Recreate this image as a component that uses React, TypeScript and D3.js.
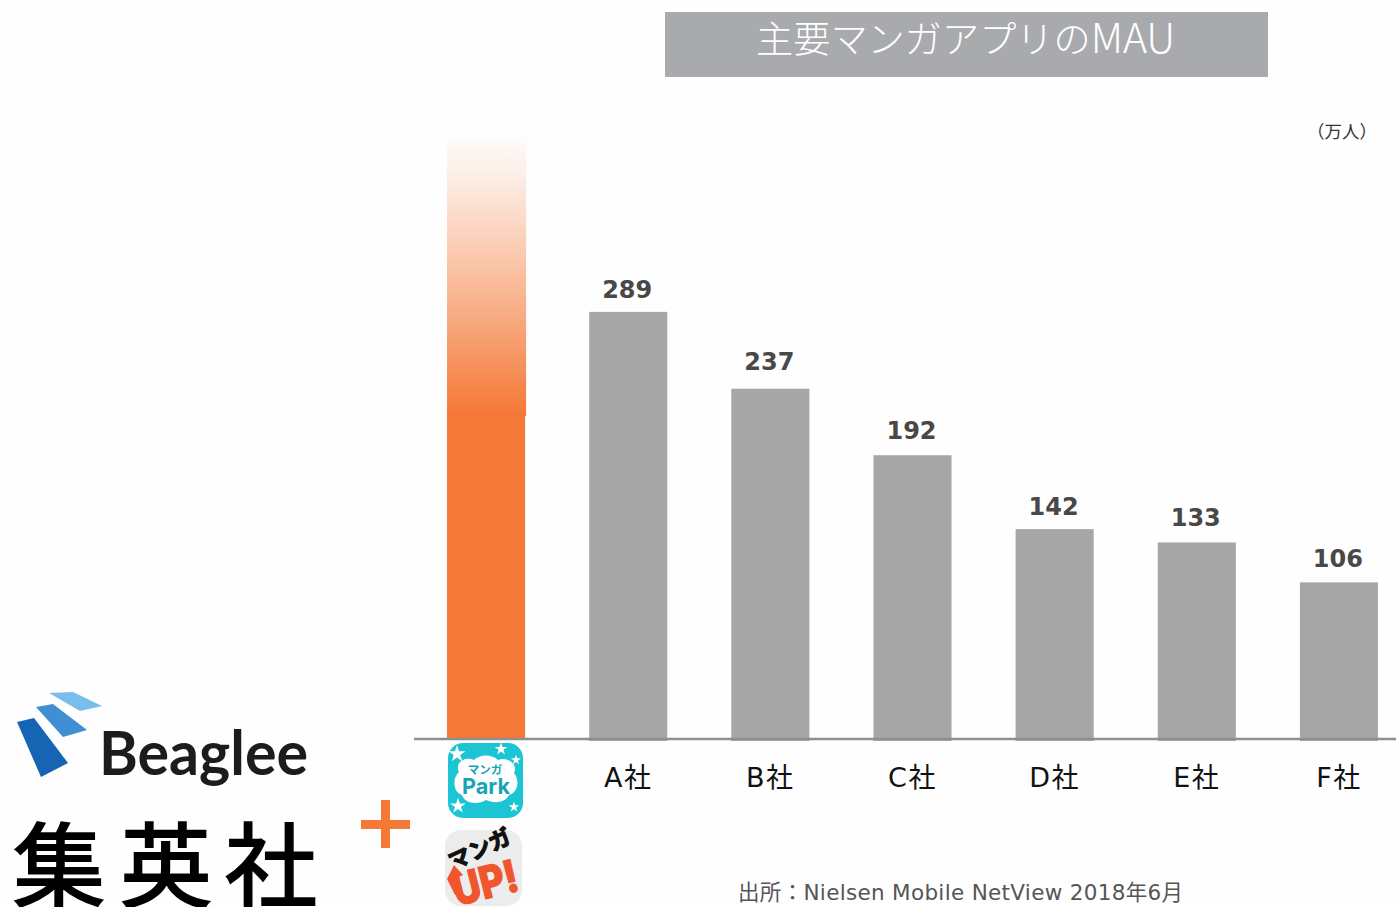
import React from "react";
import * as d3 from "d3";

const categories = ["マンガPark+マンガUP!", "A社", "B社", "C社", "D社", "E社", "F社"];
const values = [408, 289, 237, 192, 142, 133, 106];
const valueLabels = ["", "289", "237", "192", "142", "133", "106"];
const tickLabels = ["", "A社", "B社", "C社", "D社", "E社", "F社"];
const titleCjk = "主要マンガアプリの";
const titleLatin = "MAU";
const unitText = "\uFF08万人\uFF09";
const sourceText = "出所\uFF1ANielsen Mobile NetView 2018年6月";
const logoGlyphs = ["集", "英", "社"];

const labelGapNudge = [0, 0, 5, 2, 0, 2, 1];

const W = 1396, H = 907;
const CJK = "'DejaVu Sans','Noto Sans CJK JP',sans-serif";
const JP = "'Noto Sans CJK JP',sans-serif";
const baseY = 739;
const x = d3.scaleBand<string>().domain(categories).range([447 - 32, 1378 + 32]).paddingInner(64 / 142).paddingOuter(32 / 142);
const y = d3.scaleLinear().domain([0, 408]).range([baseY, baseY - 603]);
const logoX = d3.scaleOrdinal<string, number>().domain(logoGlyphs).range([13, 120, 225]);
const ORANGE = "#f47836";
const star = d3.symbol().type(d3.symbolStar);
const parkStars = [[457, 754, 90], [501, 749, 50], [516, 760, 32], [458, 806, 75], [514, 807, 35]];

export default function App() {
  const bw = x.bandwidth();
  return (
    <svg width={W} height={H} viewBox={`0 0 ${W} ${H}`} style={{ position: "absolute", left: 0, top: 0, background: "#fefefe" }}>
      <defs>
        <linearGradient id="fade" x1="0" x2="0" y1="0" y2="1">
          <stop offset="0" stopColor={ORANGE} stopOpacity="0" />
          <stop offset="0.05" stopColor={ORANGE} stopOpacity="0.06" />
          <stop offset="0.12" stopColor={ORANGE} stopOpacity="0.1" />
          <stop offset="0.45" stopColor={ORANGE} stopOpacity="0.42" />
          <stop offset="1" stopColor={ORANGE} stopOpacity="1" />
        </linearGradient>
        <filter id="soft" x="-5%" y="-5%" width="110%" height="110%">
          <feGaussianBlur stdDeviation="0.6" />
        </filter>
      </defs>

      <rect x={665} y={12} width={603} height={65} fill="#a9aaad" />
      <text x={756} y={53} fontFamily={JP} fontWeight={300} fill="#fff">
        <tspan fontSize={37.2}>{titleCjk}</tspan>
        <tspan fontSize={41}>{titleLatin}</tspan>
      </text>
      <text x={1342} y={138} textAnchor="middle" fontFamily={JP} fontSize={17.5} fill="#333">{unitText}</text>

      {categories.map((c, i) =>
        i === 0 ? (
          <g key={c}>
            <rect x={x(c)!} y={y(values[i])} width={bw + 1} height={280} fill="url(#fade)" />
            <rect x={x(c)!} y={y(values[i]) + 278} width={bw} height={baseY - y(values[i]) - 278 + 1} fill={ORANGE} />
          </g>
        ) : (
          <rect key={c} x={x(c)!} y={y(values[i])} width={bw} height={baseY - y(values[i]) + 2} fill="#a6a6a6" />
        )
      )}
      <line x1={414} x2={W} y1={baseY} y2={baseY} stroke="#8f8f8f" strokeWidth={2.4} />

      {categories.map((c, i) =>
        valueLabels[i] ? (
          <g key={c}>
            <text x={x(c)! + bw / 2 - 1} y={y(values[i]) - 14 - labelGapNudge[i]} textAnchor="middle" fontFamily="'DejaVu Sans',sans-serif" fontWeight={700} fontSize={24} fill="#484848">{valueLabels[i]}</text>
            <text x={x(c)! + bw / 2} y={787} textAnchor="middle" fontFamily={CJK} fontSize={27} letterSpacing={1.5} fill="#111">{tickLabels[i]}</text>
          </g>
        ) : null
      )}

      <text x={738} y={900} fontFamily={CJK} fontSize={21.5} fill="#555" textLength={445}>{sourceText}</text>

      {/* Beaglee logo */}
      <g filter="url(#soft)">
        <polygon points="17,722 34,718 68,763 41,777" fill="#1565b5" />
        <polygon points="36,707 53,704 87,730 63,737" fill="#3f8fd4" />
        <polygon points="49,693 73,692 102,706 80,711" fill="#79bdec" />
        <text x={99} y={775} fontFamily="Lato,sans-serif" fontWeight={700} fontSize={62} fill="#1a1a1a" textLength={209} lengthAdjust="spacingAndGlyphs">Beaglee</text>
      </g>

      {/* 集英社 */}
      {logoGlyphs.map((g) => (
        <text key={g} x={logoX(g)} y={900} fontFamily={JP} fontWeight={400} fontSize={92} fill="#000" stroke="#000" strokeWidth={2}>{g}</text>
      ))}

      {/* plus */}
      <rect x={361} y={820} width={49} height={9} fill={ORANGE} />
      <rect x={381} y={800} width={9} height={48} fill={ORANGE} />

      {/* マンガPark icon */}
      <rect x={448} y={743} width={75} height={75} rx={15} fill="#1cc5d3" />
      <path d="M459,772 C454,762 466,756 474,760 C480,754 492,754 498,760 C506,756 519,764 514,773 C520,780 518,793 509,795 C505,804 492,803 486,800 C478,805 465,804 462,795 C453,792 452,778 459,772 Z" fill="#fff" />
      {parkStars.map(([a, b, s], i) => (
        <path key={i} d={star.size(s)()!} transform={`translate(${a},${b})`} fill="#fff" />
      ))}
      <text x={485} y={774} textAnchor="middle" fontFamily={JP} fontWeight={700} fontSize={11.5} fill="#17a5b5">マンガ</text>
      <text x={462} y={794} fontFamily="Inter,sans-serif" fontWeight={700} fontSize={22} fill="#17a5b5" textLength={48} lengthAdjust="spacingAndGlyphs">Park</text>

      {/* マンガUP! icon */}
      <rect x={445} y={830} width={77} height={76} rx={16} fill="#ececec" />
      <text transform="translate(453,870) rotate(-25)" fontFamily={JP} fontWeight={700} fontSize={22} fill="#111" stroke="#111" strokeWidth={1.2}>マンガ</text>
      <path d="M447,879 L454,865 L463,875 L459,877 L463,893 L455,895 Z" fill="#f0562e" />
      <text transform="translate(457,906) rotate(-14)" fontFamily="Inter,sans-serif" fontWeight={800} fontSize={44} fill="#f0562e" stroke="#f0562e" strokeWidth={1.5} textLength={66} lengthAdjust="spacingAndGlyphs">UP!</text>
    </svg>
  );
}
